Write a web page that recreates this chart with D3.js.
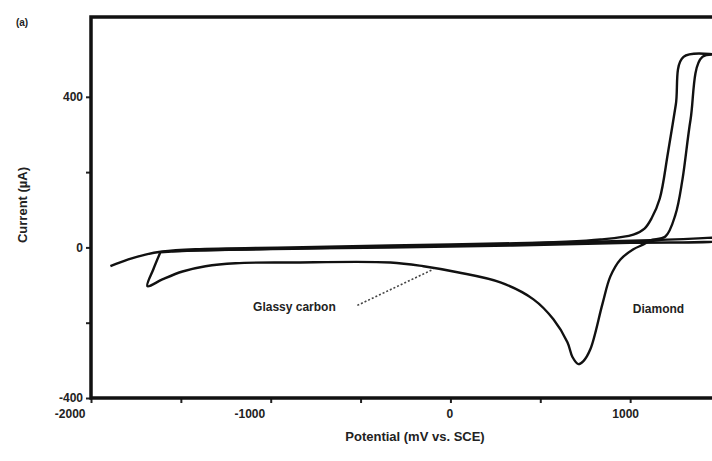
<!DOCTYPE html>
<html>
<head>
<meta charset="utf-8">
<script src="https://cdn.jsdelivr.net/npm/d3@7"></script>
<style>
  html, body { margin: 0; padding: 0; background: #fff; }
  svg { display: block; }
  text { font-family: "Liberation Sans", Arial, sans-serif; fill: #222; }
</style>
</head>
<body>
<svg id="chart" width="712" height="461"></svg>
<script>
// ---- data (potential in mV vs. SCE, current in µA) ----
const xTicks = [-2000, -1500, -1000, -500, 0, 500, 1000, 1500];
const xTickLabels = ["-2000", "", "-1000", "", "0", "", "1000", ""];
const yTicks = [-400, -200, 0, 200, 400];
const yTickLabels = ["-400", "", "0", "", "400"];

const glassyPotential = [-1614, -1391, -835, -278, 278, 835, 1018, 1080, 1120, 1165, 1210, 1254, 1297, 1550,
  1402, 1336, 1291, 1252, 1196, 1113, 1074, 1018, 946, 890, 846, 779, 740, 712, 679, 651, 573, 462, 278,
  39, -150, -334, -890, -1196, -1363, -1491, -1603, -1686, -1653, -1614];
const glassyCurrent = [-13, -8, -3, 3, 8, 21, 34, 50, 78, 130, 250, 379, 506, 506,
  506, 339, 180, 87, 29, 19, 8, -5, -32, -77, -150, -270, -302, -310, -291, -252, -191, -138, -93,
  -66, -50, -40, -40, -42, -50, -64, -85, -103, -58, -13];

const diamondPotential = [-1892, -1792, -1697, -1603, -1419, -890, -334, 0, 557, 1113, 1458, 1550,
  1550, 1000, 0, -1000, -1550];
const diamondCurrent = [-50, -32, -19, -11, -5, 0, 5, 8, 13, 19, 26, 29,
  22, 12, 2, -4, -10];

const seriesNames = ["Glassy carbon", "Diamond"];

// ---- layout ----
const svg = d3.select("#chart");
const x = d3.scaleLinear().domain([-2000, 1500]).range([91, 720]);
const y = d3.scaleLinear().domain([-400, 612]).range([398, 17]);

svg.append("defs").append("clipPath").attr("id", "plotClip")
  .append("rect").attr("x", x(-2000)).attr("y", y(612)).attr("width", x(1500) - x(-2000)).attr("height", y(-400) - y(612));

// axes
const xAxis = d3.axisBottom(x).tickValues(xTicks)
  .tickFormat((d, i) => xTickLabels[i]).tickSize(5).tickSizeOuter(0).tickPadding(6);
const gx = svg.append("g").attr("transform", `translate(0,${y(-400)})`).call(xAxis);
gx.select(".domain").remove();
gx.selectAll(".tick line").attr("stroke", "#222").attr("stroke-width", 2);
gx.selectAll(".tick text").attr("font-size", 12).attr("font-weight", "bold")
  .attr("text-anchor", d => d < 0 ? "end" : "middle")
  .attr("dx", d => d < 0 ? -6 : (d > 0 ? -5 : -1));

const yAxis = d3.axisLeft(y).tickValues(yTicks)
  .tickFormat((d, i) => yTickLabels[i]).tickSize(5).tickSizeOuter(0).tickPadding(3);
const gy = svg.append("g").attr("transform", `translate(${x(-2000)},0)`).call(yAxis);
gy.select(".domain").remove();
gy.selectAll(".tick line").attr("stroke", "#222").attr("stroke-width", 2);
gy.selectAll(".tick text").attr("font-size", 12).attr("font-weight", "bold");

// frame
svg.append("rect")
  .attr("x", x(-2000)).attr("y", y(612))
  .attr("width", x(1500) - x(-2000)).attr("height", y(-400) - y(612))
  .attr("fill", "none").attr("stroke", "#111").attr("stroke-width", 3.5);

// curves
const line = d3.line().x(d => x(d[0])).y(d => y(d[1])).curve(d3.curveCatmullRom.alpha(0.5));
const gcData = glassyPotential.map((v, i) => [v, glassyCurrent[i]]);
const diaData = diamondPotential.map((v, i) => [v, diamondCurrent[i]]);
const plot = svg.append("g").attr("clip-path", "url(#plotClip)");
plot.append("path").datum(diaData).attr("d", line)
  .attr("fill", "none").attr("stroke", "#111").attr("stroke-width", 2.4);
plot.append("path").datum(gcData).attr("d", line)
  .attr("fill", "none").attr("stroke", "#111").attr("stroke-width", 2.4).attr("stroke-linejoin", "round");

// annotations
svg.append("line")
  .attr("x1", x(-518)).attr("y1", y(-154)).attr("x2", x(-95)).attr("y2", y(-58))
  .attr("stroke", "#444").attr("stroke-width", 1.6).attr("stroke-dasharray", "2,2");
svg.append("text").attr("x", x(-868)).attr("y", y(-159)).attr("dy", "0.35em")
  .attr("text-anchor", "middle").attr("font-size", 12).attr("font-weight", "bold").text(seriesNames[0]);
svg.append("text").attr("x", x(1158)).attr("y", y(-164)).attr("dy", "0.35em")
  .attr("text-anchor", "middle").attr("font-size", 12).attr("font-weight", "bold").text(seriesNames[1]);

// titles
svg.append("text").attr("x", 415).attr("y", 441).attr("text-anchor", "middle")
  .attr("font-size", 13).attr("font-weight", "bold").text("Potential (mV vs. SCE)");
svg.append("text").attr("transform", "translate(27,205) rotate(-90)").attr("text-anchor", "middle")
  .attr("font-size", 13).attr("font-weight", "bold").text("Current (µA)");
svg.append("text").attr("x", 22).attr("y", 26).attr("text-anchor", "middle")
  .attr("font-size", 10).attr("font-weight", "bold").text("(a)");
</script>
</body>
</html>
